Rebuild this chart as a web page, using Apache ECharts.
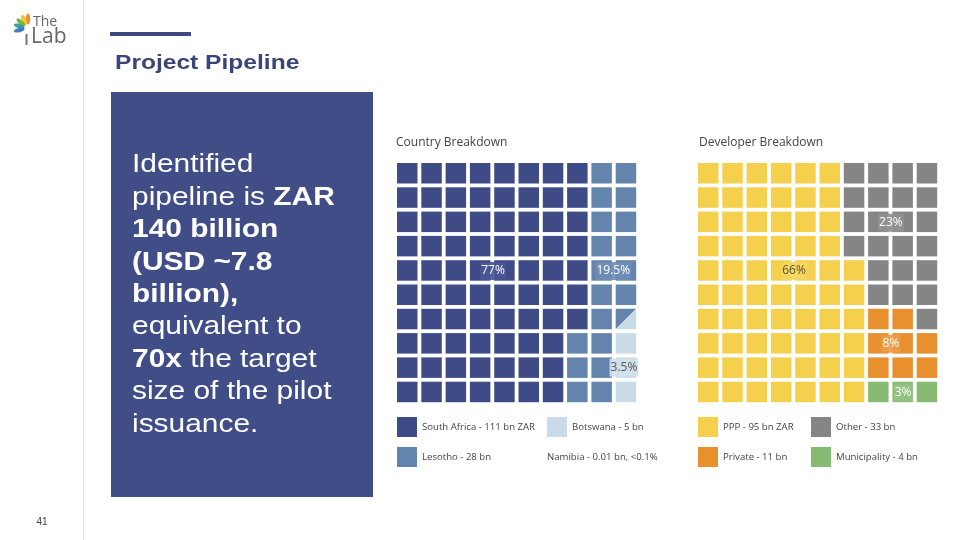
<!DOCTYPE html>
<html>
<head>
<meta charset="utf-8">
<title>Project Pipeline</title>
<script src="https://cdn.jsdelivr.net/npm/echarts@6/dist/echarts.min.js"></script>
<style>
  html, body { margin: 0; padding: 0; background: #fff; }
  #chart { width: 960px; height: 540px; }
</style>
</head>
<body>
<div id="chart"></div>
<script>
// country breakdown
const countryNames = ['South Africa - 111 bn ZAR', 'Lesotho - 28 bn', 'Botswana - 5 bn', 'Namibia - 0.01 bn, <0.1%']
const countryColors = ['#3f4b87', '#6385ad', '#c9dbe8', '#c9dbe8']
const countryLabels = ['77%', '19.5%', '3.5%']
const countryLabelAt = [[3.95, 4.44], [8.9, 4.44], [9.34, 8.42]]
// one character per cell, row by row; 'h' = cell split between Lesotho and Botswana
const countryCells = [
  '0000000011',
  '0000000011',
  '0000000011',
  '0000000011',
  '0000000011',
  '0000000011',
  '000000001h',
  '0000000112',
  '0000000112',
  '0000000112'
]

// developer breakdown
const developerNames = ['PPP - 95 bn ZAR', 'Other - 33 bn', 'Private - 11 bn', 'Municipality - 4 bn']
const developerColors = ['#f4d04c', '#858585', '#e88f2e', '#87bb74']
const developerLabels = ['66%', '23%', '8%', '3%']
const developerLabelAt = [[3.95, 4.44], [7.94, 2.46], [7.94, 7.44], [8.44, 9.44]]
const developerCells = [
  '0000001111',
  '0000001111',
  '0000001111',
  '0000001111',
  '0000000111',
  '0000000111',
  '0000000221',
  '0000000222',
  '0000000222',
  '0000000333'
]

const GAP = 3.8
const labelFont = '"Open Sans", sans-serif'
const slideFont = 'Arial, "Liberation Sans", sans-serif'

// collect [col, row, part] for one category; part 0 = whole cell, 1 = upper-left half, 2 = lower-right half
function cellsFor(rows, code) {
  const out = []
  rows.forEach((line, r) => {
    for (let c = 0; c < line.length; c++) {
      const ch = line[c]
      if (ch === String(code)) out.push([c, r, 0])
      else if (ch === 'h' && code === 1) out.push([c, r, 1])
      else if (ch === 'h' && code === 2) out.push([c, r, 2])
    }
  })
  return out
}

function renderCell(params, api) {
  const col = api.value(0)
  const row = api.value(1)
  const part = api.value(2)
  const a = api.coord([col, row])
  const b = api.coord([col + 1, row + 1])
  const x0 = a[0], y0 = a[1], x1 = b[0] - GAP, y1 = b[1] - GAP
  const fill = api.visual('color')
  if (part === 0) {
    return { type: 'rect', shape: { x: x0, y: y0, width: x1 - x0, height: y1 - y0 }, style: { fill } }
  }
  const pts = part === 1 ? [[x0, y0], [x1, y0], [x0, y1]] : [[x1, y0], [x1, y1], [x0, y1]]
  return { type: 'polygon', shape: { points: pts }, style: { fill } }
}

function waffleSeries(names, colors, rows, gridIndex) {
  return names.map((name, i) => ({
    name,
    type: 'custom',
    xAxisIndex: gridIndex,
    yAxisIndex: gridIndex,
    renderItem: renderCell,
    encode: { x: 0, y: 1 },
    itemStyle: { color: colors[i] },
    silent: true,
    z: 2,
    data: cellsFor(rows, i)
  }))
}

// percentage labels drawn on a box of their category colour, bridging the cell gaps
function labelSeries(labels, at, textColors, boxColors, gridIndex) {
  return {
    type: 'custom',
    xAxisIndex: gridIndex,
    yAxisIndex: gridIndex,
    silent: true,
    z: 20,
    encode: { x: 0, y: 1 },
    data: at.map((p, i) => [p[0], p[1], i]),
    renderItem(params, api) {
      const i = api.value(2)
      const p = api.coord([api.value(0), api.value(1)])
      return {
        type: 'text',
        z2: 100,
        x: p[0],
        y: p[1],
        style: {
          text: labels[i],
          fill: textColors[i],
          fontSize: 12,
          fontFamily: labelFont,
          align: 'center',
          verticalAlign: 'middle',
          backgroundColor: boxColors[i],
          padding: [3, 1, 3, 1],
          opacity: 1
        }
      }
    }
  }
}

const legendBase = {
  orient: 'vertical',
  icon: 'rect',
  itemWidth: 20,
  itemHeight: 20,
  itemGap: 10,
  padding: 0,
  selectedMode: false,
  textStyle: { fontSize: 9.6, color: '#444', fontFamily: labelFont }
}

const chart = echarts.init(document.getElementById('chart'))

const option = {
  animation: false,
  title: [
    { text: 'Country Breakdown', left: 396, top: 137, padding: 0,
      textStyle: { fontSize: 12, fontWeight: 'normal', color: '#444', fontFamily: labelFont } },
    { text: 'Developer Breakdown', left: 699, top: 137, padding: 0,
      textStyle: { fontSize: 12, fontWeight: 'normal', color: '#444', fontFamily: labelFont } }
  ],
  grid: [
    { left: 397, top: 163, width: 243, height: 243 },
    { left: 698, top: 163, width: 243, height: 243 }
  ],
  xAxis: [
    { gridIndex: 0, type: 'value', min: 0, max: 10, show: false },
    { gridIndex: 1, type: 'value', min: 0, max: 10, show: false }
  ],
  yAxis: [
    { gridIndex: 0, type: 'value', min: 0, max: 10, inverse: true, show: false },
    { gridIndex: 1, type: 'value', min: 0, max: 10, inverse: true, show: false }
  ],
  legend: [
    Object.assign({}, legendBase, { data: [countryNames[0], countryNames[1]], left: 397, top: 417 }),
    Object.assign({}, legendBase, { data: [countryNames[2]], left: 547, top: 417 }),
    Object.assign({}, legendBase, { data: [{ name: countryNames[3], icon: 'none' }], itemWidth: 0, left: 542, top: 447 }),
    Object.assign({}, legendBase, { data: [developerNames[0], developerNames[2]], left: 698, top: 417 }),
    Object.assign({}, legendBase, { data: [developerNames[1], developerNames[3]], left: 811, top: 417 })
  ],
  series: [
    ...waffleSeries(countryNames, countryColors, countryCells, 0),
    ...waffleSeries(developerNames, developerColors, developerCells, 1),
    labelSeries(countryLabels, countryLabelAt, ['#fff', '#fff', '#555'],
      ['rgba(72,86,150,0.92)', 'rgba(110,142,182,0.92)', 'rgba(210,225,236,0.92)'], 0),
    labelSeries(developerLabels, developerLabelAt, ['#5a5236', '#fff', '#fff', '#fff'],
      ['rgba(246,214,96,0.92)', 'rgba(145,145,145,0.92)', 'rgba(236,155,70,0.92)', 'rgba(146,194,130,0.92)'], 1)
  ],
  graphic: [
    // slide chrome
    { type: 'line', shape: { x1: 83.5, y1: 0, x2: 83.5, y2: 540 }, style: { stroke: '#e2e2e2', lineWidth: 1 } },
    { type: 'rect', shape: { x: 110, y: 32, width: 81, height: 4 }, style: { fill: '#3d4a80' } },
    { type: 'text', x: 115, y: 63, scaleX: 1.17,
      style: { text: 'Project Pipeline', fill: '#3b4577', fontSize: 21, fontWeight: 'bold', fontFamily: slideFont, verticalAlign: 'middle' } },
    { type: 'rect', shape: { x: 111, y: 92, width: 262, height: 405 }, style: { fill: '#404d87' } },
    { type: 'text', x: 132, y: 149, scaleX: 1.15,
      style: {
        text: '{n|Identified}\n{n|pipeline is }{b|ZAR}\n{b|140 billion}\n{b|(USD ~7.8}\n{b|billion),}\n{n|equivalent to}\n{b|70x}{n| the target}\n{n|size of the pilot}\n{n|issuance.}',
        fill: '#fff', fontSize: 26, fontFamily: slideFont, lineHeight: 32.4, verticalAlign: 'top',
        rich: {
          n: { fill: '#fff', fontSize: 26, fontFamily: slideFont, lineHeight: 32.4 },
          b: { fill: '#fff', fontSize: 26, fontFamily: slideFont, fontWeight: 'bold', lineHeight: 32.4 }
        }
      } },
    { type: 'text', x: 42, y: 522,
      style: { text: '41', fill: '#444', fontSize: 10, fontFamily: slideFont, align: 'center', verticalAlign: 'middle' } },
    // logo
    { type: 'ellipse', x: 28, y: 28, rotation: 0, shape: { cx: 0, cy: -9, rx: 2.2, ry: 5.5 }, style: { fill: '#f08c2a' } },
    { type: 'ellipse', x: 28, y: 28, rotation: 0.45, shape: { cx: 0, cy: -9, rx: 2.2, ry: 5.5 }, style: { fill: '#f2c532' } },
    { type: 'ellipse', x: 28, y: 28, rotation: 0.9, shape: { cx: 0, cy: -9, rx: 2.2, ry: 5.5 }, style: { fill: '#7cb342' } },
    { type: 'ellipse', x: 28, y: 28, rotation: 1.35, shape: { cx: 0, cy: -9, rx: 2.2, ry: 5.5 }, style: { fill: '#3aa39e' } },
    { type: 'ellipse', x: 28, y: 28, rotation: 1.8, shape: { cx: 0, cy: -9, rx: 2.2, ry: 5.5 }, style: { fill: '#3d7dc0' } },
    { type: 'rect', shape: { x: 25.5, y: 34, width: 2, height: 11 }, style: { fill: '#777' } },
    { type: 'text', x: 33, y: 22,
      style: { text: 'The', fill: '#666', fontSize: 14, fontFamily: '"Open Sans", sans-serif', verticalAlign: 'middle' } },
    { type: 'text', x: 31, y: 37,
      style: { text: 'Lab', fill: '#666', fontSize: 21, fontFamily: '"Open Sans", sans-serif', verticalAlign: 'middle' } }
  ]
}

chart.setOption(option)
</script>
</body>
</html>
